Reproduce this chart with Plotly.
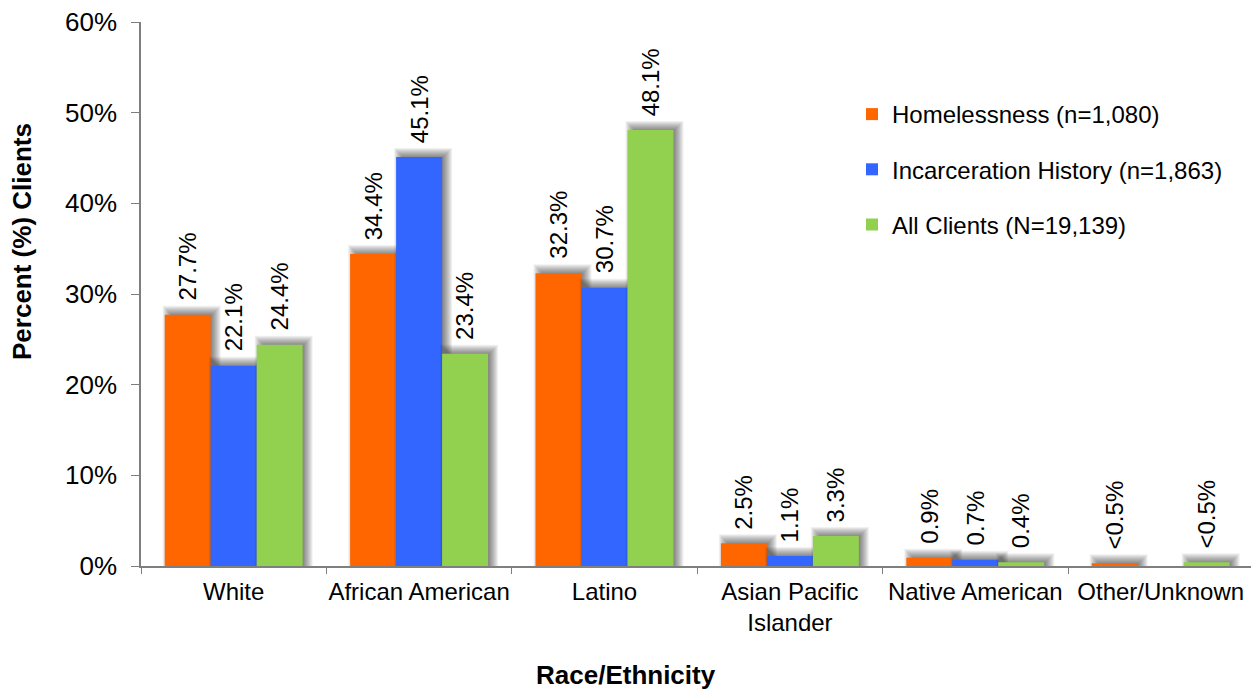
import plotly.graph_objects as go

# Client race/ethnicity breakdown by group
categories = ["White", "African American", "Latino",
              "Asian Pacific<br>Islander", "Native American", "Other/Unknown"]
series_names = ["Homelessness (n=1,080)",
                "Incarceration History (n=1,863)",
                "All Clients (N=19,139)"]
homelessness = [27.7, 34.4, 32.3, 2.5, 0.9, 0.3]
incarceration = [22.1, 45.1, 30.7, 1.1, 0.7, None]
all_clients = [24.4, 23.4, 48.1, 3.3, 0.4, 0.4]
# printed labels (small shares in the last group are reported as "<0.5%")
homelessness_labels = ["27.7%", "34.4%", "32.3%", "2.5%", "0.9%", "<0.5%"]
incarceration_labels = ["22.1%", "45.1%", "30.7%", "1.1%", "0.7%", None]
all_clients_labels = ["24.4%", "23.4%", "48.1%", "3.3%", "0.4%", "<0.5%"]
colors = ["#FF6600", "#3366FF", "#92D050"]
y_ticks = [0, 10, 20, 30, 40, 50, 60]

series_values = [homelessness, incarceration, all_clients]
series_labels = [homelessness_labels, incarceration_labels, all_clients_labels]

FONT = "Liberation Sans, Arial, sans-serif"

# pixel geometry of the plotting area
L, T, B, R = 141, 22, 124, 0
W_FIG, H_FIG = 1251, 690
plot_w = W_FIG - L - R
plot_h = H_FIG - T - B
cat_px = 185.4                       # width of one category slot
x_max = -0.5 + plot_w / cat_px
px_per_pct = plot_h / 60.0

bar_w = 0.248                        # bar width in category units
offsets = [-1.5 * bar_w, -0.5 * bar_w, 0.5 * bar_w]

# soft drop shadow: shifted right/up, approximated by stacked translucent layers
sh_dx = 4 / cat_px
sh_dy = 3 / px_per_pct
blur_steps = [-5, -4, -3, -2, -1, 0, 1, 2, 3, 4, 5, 6]
blur_alpha = 0.06

xs = list(range(len(categories)))
fig = go.Figure()

for s, (vals, name, col, off) in enumerate(zip(series_values, series_names, colors, offsets)):
    for g in blur_steps:
        gx = g / cat_px
        gy = g / px_per_pct
        fig.add_trace(go.Bar(
            x=xs,
            y=[None if v is None else v + sh_dy + gy for v in vals],
            width=bar_w + 2 * gx,
            offset=off + sh_dx - gx,
            marker=dict(color=f"rgba(0,0,0,{blur_alpha})", line=dict(width=0)),
            showlegend=False, hoverinfo="skip",
        ))
    fig.add_trace(go.Bar(
        x=xs, y=vals, name=name,
        width=bar_w, offset=off,
        marker=dict(color=col, line=dict(width=0)),
        legendgroup=f"g{s}",
    ))

# value labels above each bar
annotations = []
for vals, labels, off in zip(series_values, series_labels, offsets):
    for i, (v, lab) in enumerate(zip(vals, labels)):
        if v is None or lab is None:
            continue
        annotations.append(dict(
            x=i + off + bar_w / 2, y=v, xref="x", yref="y",
            text=lab, showarrow=False, textangle=-90,
            xanchor="center", yanchor="bottom", yshift=12,
            font=dict(family=FONT, size=24, color="#000000"),
        ))

# axis titles
annotations.append(dict(
    x=0, y=(H_FIG - B - 242) / plot_h, xref="paper", yref="paper", xshift=-(L - 22),
    text="<b>Percent (%) Clients</b>", showarrow=False, textangle=-90,
    xanchor="center", yanchor="middle",
    font=dict(family=FONT, size=26, color="#000000"),
))
annotations.append(dict(
    x=(W_FIG / 2 - L) / plot_w, y=0, xref="paper", yref="paper", yshift=-109,
    text="<b>Race/Ethnicity</b>", showarrow=False,
    xanchor="center", yanchor="middle",
    font=dict(family=FONT, size=26, color="#000000"),
))

fig.update_layout(
    width=W_FIG, height=H_FIG,
    margin=dict(l=L, r=R, t=T, b=B, autoexpand=False),
    paper_bgcolor="white", plot_bgcolor="white",
    barmode="overlay",
    font=dict(family=FONT, size=24, color="#000000"),
    annotations=annotations,
    legend=dict(
        x=(852 - L) / plot_w, xanchor="left",
        y=(H_FIG - B - 92) / plot_h, yanchor="top",
        font=dict(family=FONT, size=24, color="#000000"),
        tracegroupgap=21, bgcolor="rgba(0,0,0,0)",
    ),
    showlegend=True,
)

fig.update_xaxes(
    type="category",
    tickmode="array", tickvals=xs, ticktext=categories,
    range=[-0.5, x_max],
    tickson="boundaries", ticks="outside", ticklen=6, tickangle=0,
    tickcolor="#7F7F7F", showline=True, linecolor="#7F7F7F", linewidth=1.5,
    showgrid=False, zeroline=False,
    tickfont=dict(family=FONT, size=24, color="#000000"),
    ticklabelstandoff=3,
)
fig.update_yaxes(
    range=[0, 60], tickmode="array", tickvals=y_ticks,
    ticktext=[f"{t}%" for t in y_ticks],
    ticks="outside", ticklen=8, tickcolor="#7F7F7F",
    showline=True, linecolor="#7F7F7F", linewidth=1.5,
    showgrid=False, zeroline=False,
    tickfont=dict(family=FONT, size=26, color="#000000"),
    ticklabelstandoff=9,
)

fig.write_html("out.html")
